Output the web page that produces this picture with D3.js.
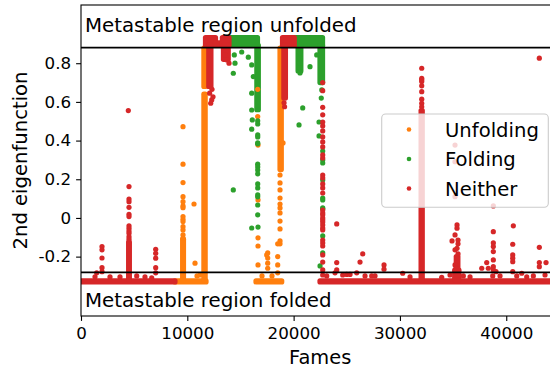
<!DOCTYPE html>
<html>
<head>
<meta charset="utf-8">
<script src="https://cdn.jsdelivr.net/npm/d3@7"></script>
<style>
  body { margin: 0; background: #fff; }
  svg { display: block; font-family: "DejaVu Sans", sans-serif; }
</style>
</head>
<body>
<svg id="chart" width="550" height="370"></svg>
<script>
// ---- data ----
const xTicks = [0, 10000, 20000, 30000, 40000];
const yTicks = [-0.2, 0, 0.2, 0.4, 0.6, 0.8];
const yTickLabels = ['-0.2', '0', '0.2', '0.4', '0.6', '0.8'];
const seriesNames = ['Unfolding', 'Folding', 'Neither'];
const regionLines = [0.881, -0.281];
const regionLabels = ['Metastable region unfolded', 'Metastable region folded'];

// dense runs where the dots merge: [frameStart, frameEnd, valueLow, valueHigh]
const unfoldingRuns = [
  [8840, 11760, -0.331, -0.325],
  [16460, 18880, -0.331, -0.325],
  [9560, 9640, -0.32, -0.11],
  [11560, 11680, -0.32, 0.64],
  [11560, 11680, 0.68, 0.878],
  [18720, 18840, 0.25, 0.878]
];
const foldingRuns = [
  [13920, 16600, 0.892, 0.933],
  [16540, 16680, 0.56, 0.892],
  [20060, 22720, 0.892, 0.933],
  [20420, 20680, 0.76, 0.892],
  [22480, 22720, 0.70, 0.892]
];
const neitherRuns = [
  [0, 8840, -0.331, -0.325],
  [22480, 45000, -0.331, -0.325],
  [4480, 4550, -0.32, -0.125],
  [31990, 32100, -0.32, 0.555],
  [35150, 35550, -0.32, -0.27],
  [35300, 35450, -0.27, -0.2],
  [11710, 12650, 0.892, 0.933],
  [12650, 13300, 0.892, 0.905],
  [13300, 13920, 0.892, 0.933],
  [12020, 12220, 0.68, 0.892],
  [13400, 13850, 0.82, 0.892],
  [18955, 20060, 0.892, 0.933],
  [19080, 19230, 0.62, 0.892]
];

// single frames: [frame, value]
const unfoldingPts = [
  [9595, 0.472], [9595, 0.278], [9595, 0.183], [9595, 0.110], [9595, 0.084],
  [9595, 0.062], [9595, 0.053], [9595, 0.007], [9595, -0.007], [9595, -0.019],
  [9595, -0.045], [9595, -0.062], [9595, -0.088], [9595, -0.105],
  [10630, 0.072], [10724, -0.234], [11194, -0.295], [10912, -0.300],
  [18720, 0.222], [18720, 0.181], [18720, 0.145], [18720, 0.103], [18720, 0.072],
  [18720, 0.052], [18720, 0.026], [18720, -0.016], [18720, -0.057], [18720, -0.119],
  [18720, -0.134], [19002, 0.388],
  [16622, 0.665], [16622, 0.524], [16650, 0.377], [16650, 0.093], [16650, -0.103],
  [16650, -0.145], [16650, -0.243],
  [17563, -0.181], [17563, -0.207], [17563, -0.234], [17563, -0.260], [17469, -0.191],
  [18504, -0.134], [18504, -0.200], [18504, -0.243], [18504, -0.284],
  [17027, -0.300], [17967, -0.300]
];
const foldingPts = [
  [14421, 0.843], [14487, 0.800], [14327, 0.748], [15117, 0.858], [15738, 0.831],
  [16058, 0.791], [16209, 0.731], [16058, 0.645], [16058, 0.558], [16114, 0.507],
  [16058, 0.459], [16058, -0.052], [14327, 0.145],
  [16622, 0.502], [16622, 0.486], [16622, 0.429], [16622, 0.419], [16622, 0.388],
  [16622, 0.383], [16622, 0.278], [16622, 0.264], [16622, 0.248], [16622, 0.228],
  [16622, 0.176], [16622, 0.155], [16622, 0.119], [16622, 0.109], [16622, 0.067],
  [16622, 0.016], [16650, -0.047],
  [20601, 0.858], [20601, 0.826], [20601, 0.800], [20601, 0.776], [20601, 0.750],
  [20855, 0.569], [21542, 0.782], [22172, 0.843], [20507, 0.481],
  [22389, 0.496], [22389, 0.424],
  [22650, 0.662], [22600, 0.620],
  [22737, 0.346], [22737, 0.300], [22737, 0.284], [22737, 0.196], [22737, 0.103],
  [22737, 0.093], [22737, 0.052], [22737, 0.047], [22737, -0.093], [22737, -0.181],
  [22483, -0.248]
];
const neitherPts = [
  [1477, -0.284], [1975, -0.148], [1975, -0.165], [1975, -0.207], [1975, -0.257],
  [1975, -0.278], [1317, -0.304], [2728, -0.305], [3669, -0.305], [5240, -0.300],
  [6020, -0.305], [6651, -0.310],
  [4450, 0.555], [4515, 0.162], [4515, 0.098], [4515, 0.084], [4515, 0.055],
  [4515, 0.019], [4515, 0.007], [4515, -0.041], [4515, -0.053], [4515, -0.067],
  [4515, -0.079], [4515, -0.097], [4515, -0.110],
  [7027, -0.162], [7027, -0.183], [7027, -0.208], [7027, -0.257], [7027, -0.284],
  [12295, 0.610], [12201, 0.593], [12417, 0.626], [12323, 0.665], [12100, 0.645],
  [13546, 0.843], [13734, 0.817], [13922, 0.800],
  [19150, 0.575], [19100, 0.595],
  [22737, 0.700], [22737, 0.658], [22737, 0.572], [22737, 0.533],
  [22737, 0.496], [22737, 0.476], [22737, 0.450], [22737, 0.419], [22737, 0.393],
  [22737, 0.367], [22737, 0.326], [22737, 0.310], [22737, 0.222], [22737, 0.207],
  [22737, 0.176], [22737, 0.155], [22737, 0.129], [22737, 0.041], [22737, 0.026],
  [22737, 0.016], [22737, 0.000], [22737, -0.010], [22737, -0.021], [22737, -0.036],
  [22737, -0.052], [22737, -0.062], [22737, -0.114], [22737, -0.129], [22737, -0.145],
  [22737, -0.191], [22737, -0.228], [22737, -0.269], [22737, -0.295],
  [24054, -0.031], [24054, -0.231], [24054, -0.269],
  [26500, -0.186], [26245, -0.228],
  [23113, -0.300], [23894, -0.284], [24618, -0.295], [24994, -0.292], [25305, -0.292],
  [25935, -0.284], [26716, -0.300], [27346, -0.300], [27657, -0.300],
  [28503, -0.243], [28503, -0.265], [30262, -0.286], [30949, -0.305],
  [32050, 0.774], [32050, 0.722], [32050, 0.714], [32050, 0.705], [32050, 0.683],
  [32050, 0.653], [32050, 0.614], [32050, 0.593], [32050, 0.575],
  [33931, -0.307], [34712, -0.295],
  [35182, 0.377], [35182, 0.291], [35182, 0.110], [35370, -0.036], [35370, -0.053],
  [35182, -0.088], [35464, -0.114], [35370, -0.157], [35182, -0.165], [35464, -0.186],
  [35370, -0.207], [35182, -0.243], [34900, -0.119], [35464, -0.134], [35300, -0.260],
  [35963, -0.300], [36593, -0.305],
  [37694, -0.260], [38164, -0.231], [38315, -0.260],
  [38785, 0.062], [38785, -0.071], [38785, -0.129], [38785, -0.148], [38785, -0.174],
  [38785, -0.217], [38785, -0.252], [38785, -0.269],
  [38729, -0.300], [39039, -0.278], [39415, -0.300],
  [40667, -0.041], [40610, -0.136], [40610, -0.191], [40610, -0.208], [40610, -0.226],
  [40610, -0.278],
  [40987, -0.300], [41457, -0.286], [41928, -0.305], [42549, -0.300],
  [43113, -0.152], [43113, -0.231], [43113, -0.252], [43113, 0.826],
  [43743, -0.231], [43648, -0.295]
];

// ---- drawing ----
const svg = d3.select('#chart');
const mLeft = 81, mRight = 559.4, mTop = 5, mBottom = 316;
const r = 2.6;

const x = d3.scaleLinear().domain([0, 45000]).range([mLeft, mRight]);
const y = d3.scaleLinear().domain([-0.507, 1.101]).range([mBottom, mTop]);
const color = d3.scaleOrdinal().domain(seriesNames).range(['#ff7f0e', '#2ca02c', '#d62728']);

svg.append('defs').append('clipPath').attr('id', 'plot')
  .append('rect').attr('x', mLeft).attr('y', mTop)
  .attr('width', mRight - mLeft).attr('height', mBottom - mTop);

const plot = svg.append('g').attr('clip-path', 'url(#plot)');

const runs = [unfoldingRuns, foldingRuns, neitherRuns];
const pts = [unfoldingPts, foldingPts, neitherPts];

runs.forEach(function(list, i) {
  plot.append('g')
    .attr('fill', color(seriesNames[i]))
    .selectAll('rect')
    .data(list)
    .join('rect')
    .attr('x', d => x(d[0]) - r)
    .attr('width', d => x(d[1]) - x(d[0]) + 2 * r)
    .attr('y', d => y(d[3]) - r)
    .attr('height', d => y(d[2]) - y(d[3]) + 2 * r)
    .attr('rx', r);
});

pts.forEach(function(list, i) {
  plot.append('g')
    .attr('fill', color(seriesNames[i]))
    .selectAll('circle')
    .data(list)
    .join('circle')
    .attr('cx', d => x(d[0]))
    .attr('cy', d => y(d[1]))
    .attr('r', r);
});

// metastable region boundaries
plot.append('g')
  .selectAll('line')
  .data(regionLines)
  .join('line')
  .attr('x1', mLeft).attr('x2', mRight)
  .attr('y1', d => y(d)).attr('y2', d => y(d))
  .attr('stroke', '#000')
  .attr('stroke-width', 1.8);

svg.append('g')
  .attr('font-size', 19.8)
  .selectAll('text')
  .data(regionLabels)
  .join('text')
  .attr('x', 85)
  .attr('y', (d, i) => i === 0 ? 31.7 : 306.7)
  .text(d => d);

// axes
const yAxis = svg.append('g')
  .attr('transform', 'translate(' + mLeft + ',0)')
  .call(d3.axisLeft(y).tickValues(yTicks).tickSize(4.9).tickPadding(5).tickSizeOuter(0)
    .tickFormat((d, i) => yTickLabels[i]));
yAxis.select('.domain').remove();

const xAxis = svg.append('g')
  .attr('transform', 'translate(0,' + mBottom + ')')
  .call(d3.axisBottom(x).tickValues(xTicks).tickSize(4.9).tickPadding(6.2).tickSizeOuter(0)
    .tickFormat(d3.format('d')));
xAxis.select('.domain').remove();

svg.selectAll('.tick text')
  .attr('font-size', 16.7)
  .attr('font-family', '"DejaVu Sans", sans-serif')
  .attr('fill', '#000');
svg.selectAll('.tick line').attr('stroke', '#000').attr('stroke-width', 1.1);

svg.append('rect')
  .attr('x', mLeft).attr('y', mTop)
  .attr('width', mRight - mLeft).attr('height', mBottom - mTop)
  .attr('fill', 'none')
  .attr('stroke', '#000')
  .attr('stroke-width', 1.1);

svg.append('text')
  .attr('x', (mLeft + mRight) / 2)
  .attr('y', 364)
  .attr('text-anchor', 'middle')
  .attr('font-size', 19.4)
  .text('Fames');

svg.append('text')
  .attr('transform', 'translate(27,' + (mTop + mBottom) / 2 + ') rotate(-90)')
  .attr('text-anchor', 'middle')
  .attr('font-size', 19.6)
  .text('2nd eigenfunction');

// legend
const legend = svg.append('g');
legend.append('rect')
  .attr('x', 381.7).attr('y', 114)
  .attr('width', 166.6).attr('height', 93.3)
  .attr('rx', 4)
  .attr('fill', '#fff')
  .attr('fill-opacity', 0.8)
  .attr('stroke', '#cccccc')
  .attr('stroke-width', 1.1);

const item = legend.selectAll('g.item')
  .data(seriesNames)
  .join('g')
  .attr('class', 'item')
  .attr('transform', (d, i) => 'translate(0,' + (129.5 + i * 29.5) + ')');

item.append('circle')
  .attr('cx', 409)
  .attr('cy', 0)
  .attr('r', 2.3)
  .attr('fill', d => color(d));

item.append('text')
  .attr('x', 445)
  .attr('y', 7.2)
  .attr('font-size', 19.6)
  .text(d => d);
</script>
</body>
</html>
